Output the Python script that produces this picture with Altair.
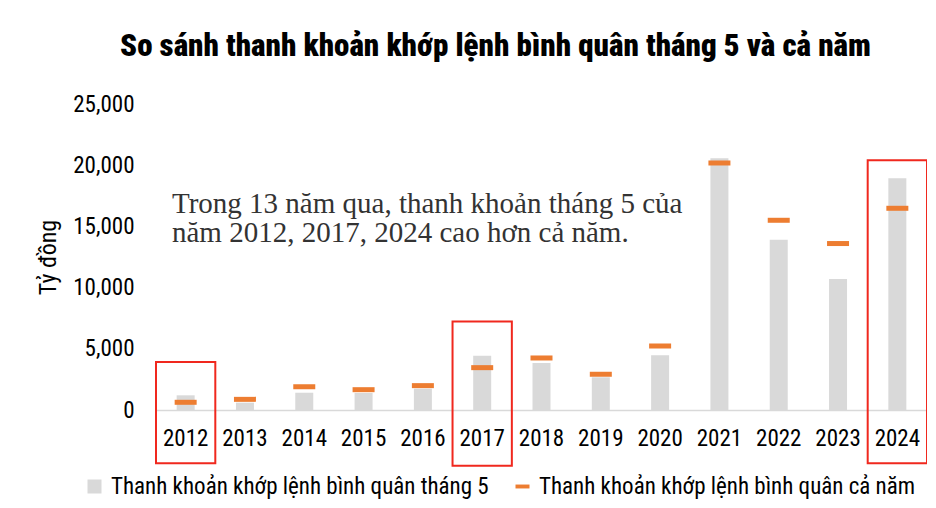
import altair as alt
import pandas as pd

years = ["2012", "2013", "2014", "2015", "2016", "2017", "2018", "2019", "2020", "2021", "2022", "2023", "2024"]
may_values = [1200, 600, 1410, 1390, 1740, 4440, 3840, 2670, 4470, 20560, 13900, 10700, 18930]
annual_values = [630, 870, 1900, 1660, 1990, 3460, 4250, 2920, 5220, 20180, 15500, 13600, 16480]

s_may = "Thanh khoản khớp lệnh bình quân tháng 5"
s_year = "Thanh khoản khớp lệnh bình quân cả năm"

box_years = ["2012", "2017", "2024"]
box_top = [3930, 7230, 20400]
box_bottom = [-4360, -4560, -4360]

note_text = "Trong 13 năm qua, thanh khoản tháng 5 của\nnăm 2012, 2017, 2024 cao hơn cả năm."

NARROW = "Roboto Condensed, DejaVu Sans Condensed, Liberation Sans Narrow, Arial Narrow, Liberation Sans"

df = pd.DataFrame({"year": years, "may": may_values, "annual": annual_values,
                   "s_may": s_may, "s_year": s_year})
boxes = pd.DataFrame({"year": box_years, "top": box_top, "bottom": box_bottom})
note = pd.DataFrame({"year": ["2012"], "y": [16120], "text": [note_text]})

xsc = alt.Scale(domain=years, paddingInner=0, paddingOuter=0)
ysc = alt.Scale(domain=[0, 25000], nice=False)

xaxis = alt.Axis(title=None, labelAngle=0, ticks=False, domainColor="#d9d9d9", domainWidth=1.5,
                 labelFont=NARROW, labelFontSize=23, labelColor="#000", labelPadding=17)
yaxis = alt.Axis(title="Tỷ đồng", values=[0, 5000, 10000, 15000, 20000, 25000], format=",.0f",
                 grid=False, domain=False, ticks=False, labelPadding=22,
                 labelFont=NARROW, labelFontSize=23, labelColor="#000",
                 titleFont=NARROW, titleFontSize=24, titleFontWeight="normal", titleColor="#000",
                 titlePadding=12)

legend_common = dict(title=None, orient="none", legendY=371, symbolSize=196, symbolStrokeWidth=0,
                     labelFont=NARROW, labelFontSize=23, labelColor="#000", labelLimit=0,
                     padding=0, labelOffset=5)

bars = alt.Chart(df).mark_bar(size=18, opacity=1).encode(
    x=alt.X("year:N", scale=xsc, axis=xaxis, sort=years),
    y=alt.Y("may:Q", scale=ysc, axis=yaxis),
    color=alt.Color("s_may:N", scale=alt.Scale(range=["#d9d9d9"]),
                    legend=alt.Legend(legendX=-73, symbolType="square", **legend_common)),
)

ticks = alt.Chart(df).mark_tick(thickness=5, size=22, opacity=1).encode(
    x=alt.X("year:N", scale=xsc, sort=years),
    y=alt.Y("annual:Q", scale=ysc),
    color=alt.Color("s_year:N", scale=alt.Scale(range=["#ed7d31"]),
                    legend=alt.Legend(legendX=355, symbolType="M-1,-0.28H1V0.28H-1Z",
                                      **legend_common)),
)

rects = alt.Chart(boxes).mark_rect(fill=None, stroke="#f0281e", strokeWidth=2, clip=False).encode(
    x=alt.X("year:N", scale=xsc, sort=years),
    y=alt.Y("top:Q", scale=ysc),
    y2="bottom:Q",
)

text = alt.Chart(note).mark_text(align="left", baseline="alphabetic", dx=16, lineBreak="\n",
                                 lineHeight=29, font="Liberation Serif, Times New Roman, serif",
                                 fontSize=29, color="#333333").encode(
    x=alt.X("year:N", scale=xsc, sort=years, bandPosition=0),
    y=alt.Y("y:Q", scale=ysc),
    text="text:N",
)

chart = alt.layer(bars, ticks, rects, text).resolve_scale(color="independent").resolve_legend(
    color="independent"
).properties(
    width=771, height=306,
    padding={"left": 148, "top": 96, "right": 0, "bottom": 92},
    autosize=alt.AutoSizeParams(type="none"),
    background="white",
    title=alt.TitleParams("So sánh thanh khoản khớp lệnh bình quân tháng 5 và cả năm",
                          font=NARROW, fontSize=31, fontWeight=900, color="#000",
                          anchor="middle", dx=-46, offset=30),
).configure_view(strokeWidth=0, stroke=None)

chart.save("out.html", embed_options={"renderer": "svg", "actions": False})
